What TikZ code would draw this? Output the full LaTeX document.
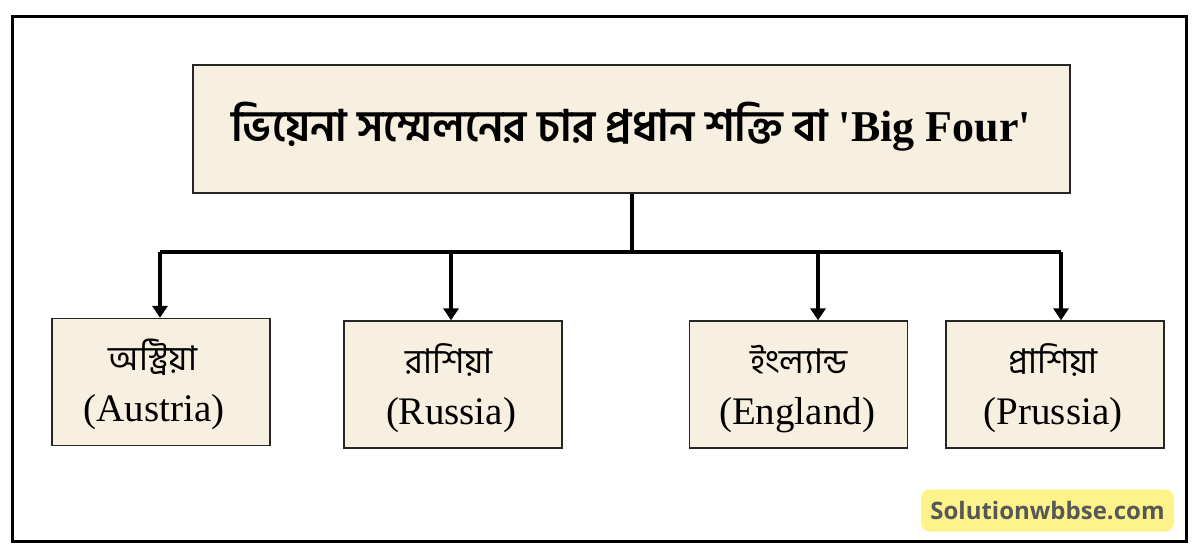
\documentclass[tikz,border=0pt]{standalone}
\usepackage{fontspec}
\setmainfont{Liberation Serif}
\newfontfamily\bn[Script=Bengali]{Hind Siliguri}
\newfontfamily\wm{Open Sans}
\usetikzlibrary{arrows.meta}
\definecolor{cream}{HTML}{F7EFDF}
\definecolor{wmyellow}{HTML}{FDF38A}
\definecolor{wmgray}{HTML}{575757}
\begin{document}
\begin{tikzpicture}[x=1pt,y=-1pt,
  box/.style={draw=black!85,line width=1.3pt,fill=cream,minimum width=218pt,minimum height=127pt,inner sep=0pt},
  bnlab/.style={anchor=base,inner sep=0pt,font=\bn\fontsize{34}{40}\selectfont},
  enlab/.style={anchor=base,inner sep=0pt,font=\fontsize{39}{44}\selectfont},
  conn/.style={line width=3.5pt,black},
  arr/.style={conn,-{Triangle[width=15pt,length=12pt]}}]
\useasboundingbox (0,0) rectangle (1200,554);
\fill[white] (0,0) rectangle (1200,554);
\node[draw,line width=3pt,minimum width=1174pt,minimum height=525pt,inner sep=0pt] (frame) at (599,278.5) {};
\node[box,minimum width=877pt,minimum height=128pt] (title) at (631.5,129) {};
\node[anchor=base,inner sep=0pt] (titletext) at (631,141) {\bn\bfseries\fontsize{43.5}{48}\selectfont ভিয়েনা সম্মেলনের চার প্রধান শক্তি বা \rmfamily\bfseries\fontsize{44}{48}\selectfont \textquotesingle Big Four\textquotesingle};
\node[box] (aus) at (161,382) {};
\node[box] (rus) at (453,384.5) {};
\node[box] (eng) at (798.5,384.5) {};
\node[box] (pru) at (1055,384.5) {};
\node[bnlab] (ausbn) at (153,370) {অস্ট্রিয়া};
\node[enlab] (ausen) at (154,421) {(Austria)};
\node[bnlab] (rusbn) at (449,373) {রাশিয়া};
\node[enlab] (rusen) at (451,424) {(Russia)};
\node[bnlab] (engbn) at (799,373) {ইংল্যান্ড};
\node[enlab] (engen) at (797,424) {(England)};
\node[bnlab] (prubn) at (1053,373) {প্রাশিয়া};
\node[enlab] (pruen) at (1053,424) {(Prussia)};
\coordinate (hub) at (632,252);
\coordinate (hl) at (160,252);
\coordinate (hr) at (1061,252);
\draw[conn] (title.south -| hub) -- (hub);
\draw[conn] (hl) -- (hr);
\draw[arr] (hl) -- (aus.north -| hl);
\draw[arr] (451,252) -- (rus.north -| 451,0);
\draw[arr] (818,252) -- (eng.north -| 818,0);
\draw[arr] (hr) -- (pru.north -| hr);
\node[fill=wmyellow,rounded corners=9pt,minimum width=253pt,minimum height=42pt,inner sep=0pt,text=wmgray,font=\wm\bfseries\fontsize{24}{28}\selectfont] (wmk) at (1047.5,510.5) {Solutionwbbse.com};
\end{tikzpicture}
\end{document}
